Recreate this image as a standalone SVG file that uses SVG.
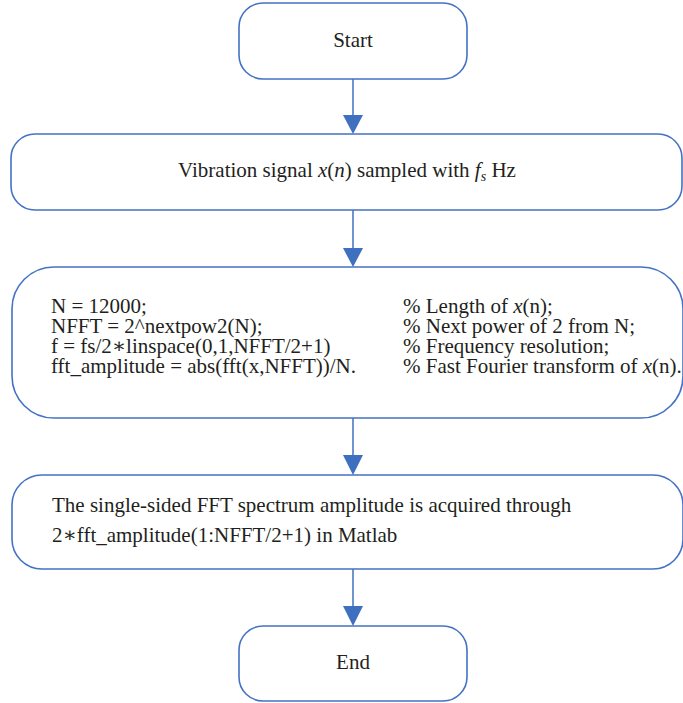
<svg xmlns="http://www.w3.org/2000/svg" width="683" height="703" viewBox="0 0 683 703">
<defs>
<style>
.box{fill:#ffffff;stroke:#4472C4;stroke-width:1.6}
.t{font-family:'Liberation Serif','Times New Roman','DejaVu Serif',serif;font-size:21px;fill:#231f20}
.c{text-anchor:middle}
.conn{stroke:#6F94CF;stroke-width:2;fill:none}
.head{fill:#3F6FBF}
</style>
</defs>
<rect width="683" height="703" fill="#ffffff"/>
<g id="connectors">
<line class="conn" x1="353" y1="79" x2="353" y2="116"/>
<polygon class="head" points="343,115 363,115 353,134"/>
<line class="conn" x1="353" y1="210" x2="353" y2="249"/>
<polygon class="head" points="343,248 363,248 353,267"/>
<line class="conn" x1="353" y1="418" x2="353" y2="456"/>
<polygon class="head" points="343,455 363,455 353,475"/>
<line class="conn" x1="353" y1="569" x2="353" y2="607"/>
<polygon class="head" points="343,606 363,606 353,626"/>
</g>
<g font-family="Liberation Serif, Times New Roman, DejaVu Serif, serif">
<g id="start">
<rect class="box" x="239" y="3" width="228" height="76" rx="24"/>
<text class="t c" x="353" y="47" font-family="Liberation Serif, serif">Start</text>
</g>
<g id="signal">
<rect class="box" x="11" y="134" width="671" height="76" rx="24"/>
<text class="t c" x="347" y="177" font-family="Liberation Serif, serif">Vibration signal <tspan font-style="italic">x</tspan>(<tspan font-style="italic">n</tspan>) sampled with <tspan font-style="italic">f</tspan><tspan font-style="italic" font-size="14" dy="4">s</tspan><tspan dy="-4"> Hz</tspan></text>
</g>
<g id="fft">
<rect class="box" x="12" y="267" width="671" height="151" rx="42"/>
<text class="t" x="51" y="313" font-family="Liberation Serif, serif">N = 12000;</text>
<text class="t" x="51" y="333" font-family="Liberation Serif, serif">NFFT = 2^nextpow2(N);</text>
<text class="t" x="51" y="353" font-family="Liberation Serif, serif">f = fs/2∗linspace(0,1,NFFT/2+1)</text>
<text class="t" x="51" y="373" font-family="Liberation Serif, serif">fft_amplitude = abs(fft(x,NFFT))/N.</text>
<text class="t" x="403" y="313" font-family="Liberation Serif, serif">% Length of <tspan font-style="italic">x</tspan>(n);</text>
<text class="t" x="403" y="333" font-family="Liberation Serif, serif">% Next power of 2 from N;</text>
<text class="t" x="403" y="353" font-family="Liberation Serif, serif">% Frequency resolution;</text>
<text class="t" x="403" y="373" font-family="Liberation Serif, serif">% Fast Fourier transform of <tspan font-style="italic">x</tspan>(n).</text>
</g>
<g id="spectrum">
<rect class="box" x="12" y="475" width="671" height="94" rx="30"/>
<text class="t" x="52" y="512" font-family="Liberation Serif, serif">The single-sided FFT spectrum amplitude is acquired through</text>
<text class="t" x="52" y="542" font-family="Liberation Serif, serif">2∗fft_amplitude(1:NFFT/2+1) in Matlab</text>
</g>
<g id="end">
<rect class="box" x="239" y="626" width="228" height="75" rx="24"/>
<text class="t c" x="353" y="669" font-family="Liberation Serif, serif">End</text>
</g>
</g>
</svg>
